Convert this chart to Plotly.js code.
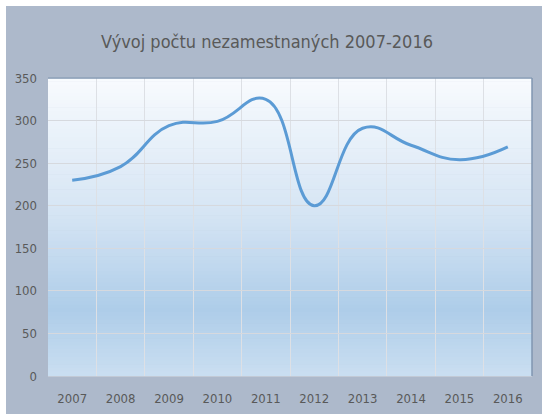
<!DOCTYPE html>
<html>
<head>
<meta charset="utf-8">
<script src="https://cdn.plot.ly/plotly-3.0.1.min.js"></script>
<style>
html,body{margin:0;padding:0;background:#ffffff;width:542px;height:414px;overflow:hidden;}
#chart{position:absolute;left:6px;top:6px;width:536px;height:408px;}
</style>
</head>
<body>
<div id="chart"></div>
<script>
// Data
const years = ["2007","2008","2009","2010","2011","2012","2013","2014","2015","2016"];
const unemployed = [230, 246, 294, 299, 325, 200, 291, 271, 254, 269];
const yTicks = [0, 50, 100, 150, 200, 250, 300, 350];
const chartTitle = "Vývoj počtu nezamestnaných 2007-2016";

// Gradient background for plot area (style only)
function lerp(a,b,t){return a+(b-a)*t;}
function hex(c){return [parseInt(c.slice(1,3),16),parseInt(c.slice(3,5),16),parseInt(c.slice(5,7),16)];}
const stops = [[0,"#f8fbfe"],[0.45,"#d6e5f4"],[0.78,"#aecde9"],[1,"#cadef1"]]; // from top
function colorAt(t){
  for(let i=0;i<stops.length-1;i++){
    if(t>=stops[i][0] && t<=stops[i+1][0]){
      const u=(t-stops[i][0])/(stops[i+1][0]-stops[i][0]);
      const a=hex(stops[i][1]), b=hex(stops[i+1][1]);
      return "rgb("+Math.round(lerp(a[0],b[0],u))+","+Math.round(lerp(a[1],b[1],u))+","+Math.round(lerp(a[2],b[2],u))+")";
    }
  }
  return stops[stops.length-1][1];
}
const shapes=[];
const N=80;
for(let i=0;i<N;i++){
  const tTop=i/N, tBot=(i+1)/N;
  shapes.push({type:"rect",xref:"paper",yref:"paper",x0:0,x1:1,y0:1-tBot,y1:1-tTop+0.002,
    fillcolor:colorAt((tTop+tBot)/2),line:{width:0},layer:"below"});
}

const font = "'DejaVu Sans Condensed', 'Liberation Sans Narrow', sans-serif";

const trace = {
  x: years, y: unemployed, type:"scatter", mode:"lines",
  line:{color:"#5b9bd5", width:3, shape:"spline", smoothing:1.3},
  hoverinfo:"skip"
};

const layout = {
  width:536, height:408,
  margin:{l:42, r:10, t:72, b:38},
  paper_bgcolor:"#adb9cb",
  plot_bgcolor:"rgba(0,0,0,0)",
  showlegend:false,
  shapes: shapes,
  title:{text:chartTitle, font:{family:font, size:18, color:"#595959"},
    x:0.487, xref:"container", y:0.912, yref:"container", xanchor:"center", yanchor:"middle"},
  xaxis:{type:"category", range:[-0.5, 9.5], tickson:"boundaries", ticks:"",
    showgrid:true, gridcolor:"#dde0e5", gridwidth:1,
    showline:true, linecolor:"#c2cad6", linewidth:1,
    tickfont:{family:font, size:13, color:"#595959"}, ticklabelstandoff:10, fixedrange:true},
  yaxis:{range:[0,350], tickvals:yTicks, ticktext:yTicks.map(String), ticks:"",
    showgrid:true, gridcolor:"#d6d9de", gridwidth:1, zeroline:false,
    showline:false,
    tickfont:{family:font, size:13, color:"#595959"}, ticklabelstandoff:10, fixedrange:true}
};
// plot border on top/right
layout.shapes.push({type:"line",xref:"paper",yref:"paper",x0:0,x1:1,y0:1,y1:1,line:{color:"#8196b0",width:1.5},layer:"above"});
layout.shapes.push({type:"line",xref:"paper",yref:"paper",x0:1,x1:1,y0:0,y1:1,line:{color:"#8196b0",width:1.5},layer:"above"});

Plotly.newPlot("chart",[trace],layout,{staticPlot:true, displayModeBar:false});
</script>
</body>
</html>
